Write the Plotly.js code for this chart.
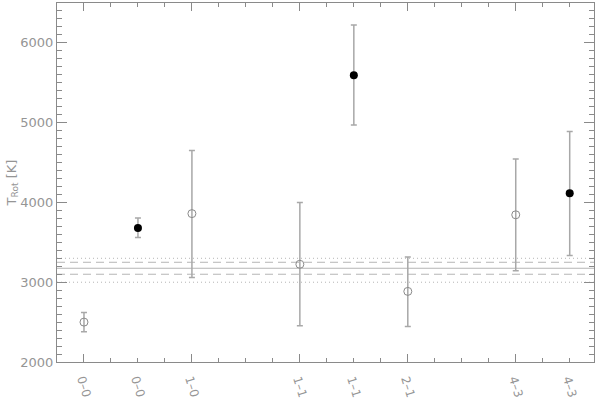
<!DOCTYPE html>
<html>
<head>
<meta charset="utf-8">
<script src="https://cdn.plot.ly/plotly-3.0.1.min.js"></script>
<style>
  html, body { margin: 0; padding: 0; background: #fff; }
  #chart { width: 600px; height: 408px; }
</style>
</head>
<body>
<div id="chart"></div>
<script>
// band labels and position along the x axis
var bands = ['0\u20130', '0\u20130', '1\u20130', '1\u20131', '1\u20131', '2\u20131', '4\u20133', '4\u20133'];
var xpos = [0, 1, 2, 4, 5, 6, 8, 9];
var filled = [false, true, false, false, true, false, false, true];

// rotational temperatures [K] and errors
var tRot = [2500, 3680, 3860, 3225, 5595, 2885, 3845, 4115];
var errPlus = [120, 125, 790, 775, 630, 430, 700, 775];
var errMinus = [120, 120, 800, 770, 625, 440, 700, 780];

// reference level: mean, dashed and dotted bounds
var refMean = 3175;
var refDashed = [3100, 3250];
var refDotted = [3000, 3300];

var grey = '#8a8a8a';
var textGrey = '#959595';

function pick(arr, wantFilled) {
  return arr.filter(function (v, i) { return filled[i] === wantFilled; });
}

function makeTrace(wantFilled) {
  return {
    x: pick(xpos, wantFilled),
    y: pick(tRot, wantFilled),
    type: 'scatter',
    mode: 'markers',
    error_y: {
      type: 'data',
      symmetric: false,
      array: pick(errPlus, wantFilled),
      arrayminus: pick(errMinus, wantFilled),
      color: '#a8a8a8',
      thickness: 1.5,
      width: 3
    },
    marker: wantFilled
      ? { symbol: 'circle', size: 8, color: '#000' }
      : { symbol: 'circle-open', size: 8, color: grey, line: { width: 1, color: grey } },
    hoverinfo: 'skip'
  };
}

var data = [makeTrace(false), makeTrace(true)];

var shapes = [];
function hline(y, dash) {
  shapes.push({
    type: 'line', xref: 'paper', yref: 'y',
    x0: 0, x1: 1, y0: y, y1: y,
    line: { color: '#b5b5b5', width: 1, dash: dash },
    layer: 'below'
  });
}
hline(refMean, 'solid');
refDashed.forEach(function (v) { hline(v, '8px,5px'); });
refDotted.forEach(function (v) { hline(v, '1px,3px'); });

var annotations = bands.map(function (b, i) {
  return {
    x: xpos[i], xref: 'x',
    y: -0.07, yref: 'paper', yanchor: 'middle',
    text: b, showarrow: false, textangle: 73,
    font: { family: 'DejaVu Sans, sans-serif', size: 12, color: textGrey }
  };
});

var layout = {
  width: 600,
  height: 408,
  margin: { l: 57, r: 6, t: 3, b: 46 },
  paper_bgcolor: '#fff',
  plot_bgcolor: '#fff',
  showlegend: false,
  font: { family: 'DejaVu Sans, sans-serif', size: 13, color: textGrey },
  xaxis: {
    range: [-0.5, 9.45],
    showgrid: false, zeroline: false,
    showline: true, linecolor: grey, linewidth: 1, mirror: 'ticks',
    ticks: 'inside', ticklen: 8, tickcolor: grey, tickwidth: 1,
    tick0: 0, dtick: 2, showticklabels: false,
    minor: { dtick: 0.5, ticks: 'inside', ticklen: 4, tickcolor: grey, showgrid: false },
    fixedrange: true
  },
  yaxis: {
    range: [2000, 6500],
    showgrid: false, zeroline: false,
    showline: true, linecolor: grey, linewidth: 1, mirror: 'ticks',
    ticks: 'inside', ticklen: 10, tickcolor: grey, tickwidth: 1,
    tick0: 2000, dtick: 1000,
    minor: { dtick: 100, ticks: 'inside', ticklen: 5, tickcolor: grey, showgrid: false },
    tickfont: { size: 13, color: textGrey },
    title: { text: 'T<sub>Rot</sub> [K]', font: { size: 13, color: textGrey }, standoff: 0 },
    fixedrange: true
  },
  shapes: shapes,
  annotations: annotations
};

Plotly.newPlot('chart', data, layout, { displayModeBar: false, staticPlot: true });
</script>
</body>
</html>
